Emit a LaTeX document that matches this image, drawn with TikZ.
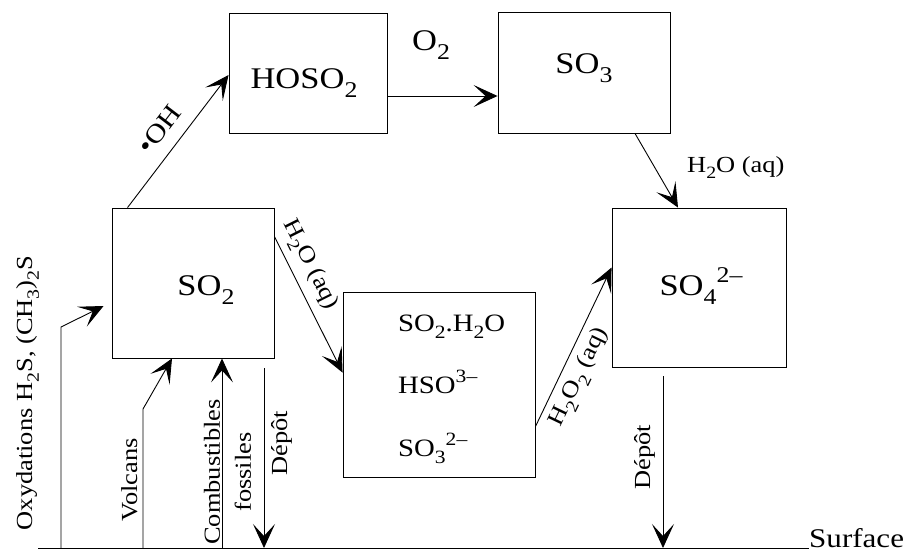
\documentclass[tikz,border=0pt]{standalone}
\usepackage{fontspec}
\setmainfont{Liberation Serif}[FakeStretch=1.15]
\usepackage{graphicx}
\usetikzlibrary{arrows.meta}
\newcommand\sbx[1]{\raisebox{-0.3em}{\scalebox{0.75}{#1}}}
\newcommand\spx[1]{\raisebox{0.42em}{\scalebox{0.75}{#1}}}
\begin{document}
\begin{tikzpicture}[x=1pt,y=-1pt,
  box/.style={draw, line width=0.9pt, inner sep=0pt},
  arr/.style={line width=0.9pt, -{Stealth[length=24pt,width=22pt,inset=12pt]}},
  ln/.style={line width=0.9pt},
  big/.style={font=\fontsize{30}{36}\selectfont, inner sep=0pt},
  midt/.style={font=\fontsize{25}{30}\selectfont, inner sep=0pt},
  lab/.style={font=\fontsize{23}{28}\selectfont, inner sep=0pt},
]
\useasboundingbox (0,0) rectangle (912,552);
% boxes
\node[box, minimum width=158pt, minimum height=120pt] (hoso2) at (308,73) {};
\node[box, minimum width=172pt, minimum height=121pt] (so3) at (584,72.5) {};
\node[box, minimum width=162pt, minimum height=150pt] (so2) at (193,283) {};
\node[box, minimum width=192pt, minimum height=185pt] (mid) at (439,384.5) {};
\node[box, minimum width=174pt, minimum height=159pt] (so4) at (699,287.5) {};
% box texts
\node[big, anchor=base] (thoso2) at (304,88) {HOSO\sbx{2}};
\node[big, anchor=base] (tso3) at (584,73) {SO\sbx{3}};
\node[big, anchor=base] (tso2) at (206,295) {SO\sbx{2}};
\node[big, anchor=base] (tso4) at (701,295) {SO\sbx{4}\spx{2–}};
\node[midt, anchor=base west] (tm1) at (398,331) {SO\sbx{2}.H\sbx{2}O};
\node[midt, anchor=base west] (tm2) at (398,393) {HSO\spx{3–}};
\node[midt, anchor=base west] (tm3) at (398,456) {SO\sbx{3}\spx{2–}};
% surface
\node[font=\fontsize{27}{32}\selectfont, inner sep=0pt, anchor=base west] (surf) at (809,547) {Surface};
\coordinate (sl) at (38,548);
\draw[ln] (sl) -- (sl -| surf.west);
\coordinate (g1) at (61,548);
\coordinate (g2) at (143,548);
\coordinate (g3) at (222,548);
\coordinate (g4) at (264,548);
\coordinate (g5) at (663,548);
% connectors
\draw[arr] ([xshift=16pt]so2.north west) -- ([yshift=-2pt]hoso2.west)
  node[pos=0.49, sloped, above=13pt, font=\fontsize{26}{30}\selectfont, inner sep=0pt] (oh) {\textbullet OH};
\draw[arr] ([yshift=-23pt]hoso2.east) -- ([yshift=-23pt]hoso2.east -| so3.west);
\node[big, anchor=base west] (o2) at (412,50) {O\sbx{2}};
\draw[arr] ([xshift=51pt]so3.south) -- ([xshift=-21pt]so4.north);
\node[lab, anchor=base west] (h2oa) at (687,172) {H\sbx{2}O (aq)};
\draw[arr] ([yshift=-29pt]so2.north east) -- ([yshift=-81pt]mid.north west)
  node[pos=0.27, sloped, above=7pt, lab] (h2ob) {H\sbx{2}O (aq)};
\draw[arr] ([yshift=-135pt]mid.north east) -- ([yshift=-60pt]so4.north west)
  node[pos=0.36, sloped, below=7pt, lab] (h2o2) {H\sbx{2}O\sbx{2} (aq)};
\draw[arr] (g1) -- ++(0,-221) -- ([xshift=-8pt,yshift=-23pt]so2.west);
\draw[arr] (g2) -- ++(0,-139) -- ([xshift=-21pt]so2.south);
\draw[arr] (g3) -- ([xshift=29pt]so2.south);
\draw[arr] ([xshift=71pt,yshift=-10pt]so2.south) -- (g4);
\draw[arr] ([xshift=-36pt,yshift=-9pt]so4.south) -- (g5);
% rotated labels
\node[lab, rotate=90, anchor=base] (ox) at (32,393) {Oxydations H\sbx{2}S, (CH\sbx{3})\sbx{2}S};
\node[lab, rotate=90, anchor=base] (vol) at (137,480) {Volcans};
\node[lab, rotate=90, align=center, anchor=center] (comb) at (227.5,472) {Combustibles\\[3pt]fossiles};
\node[lab, rotate=90, anchor=base] (dep1) at (287,443) {Dépôt};
\node[lab, rotate=90, anchor=base] (dep2) at (650,457) {Dépôt};
\end{tikzpicture}
\end{document}
